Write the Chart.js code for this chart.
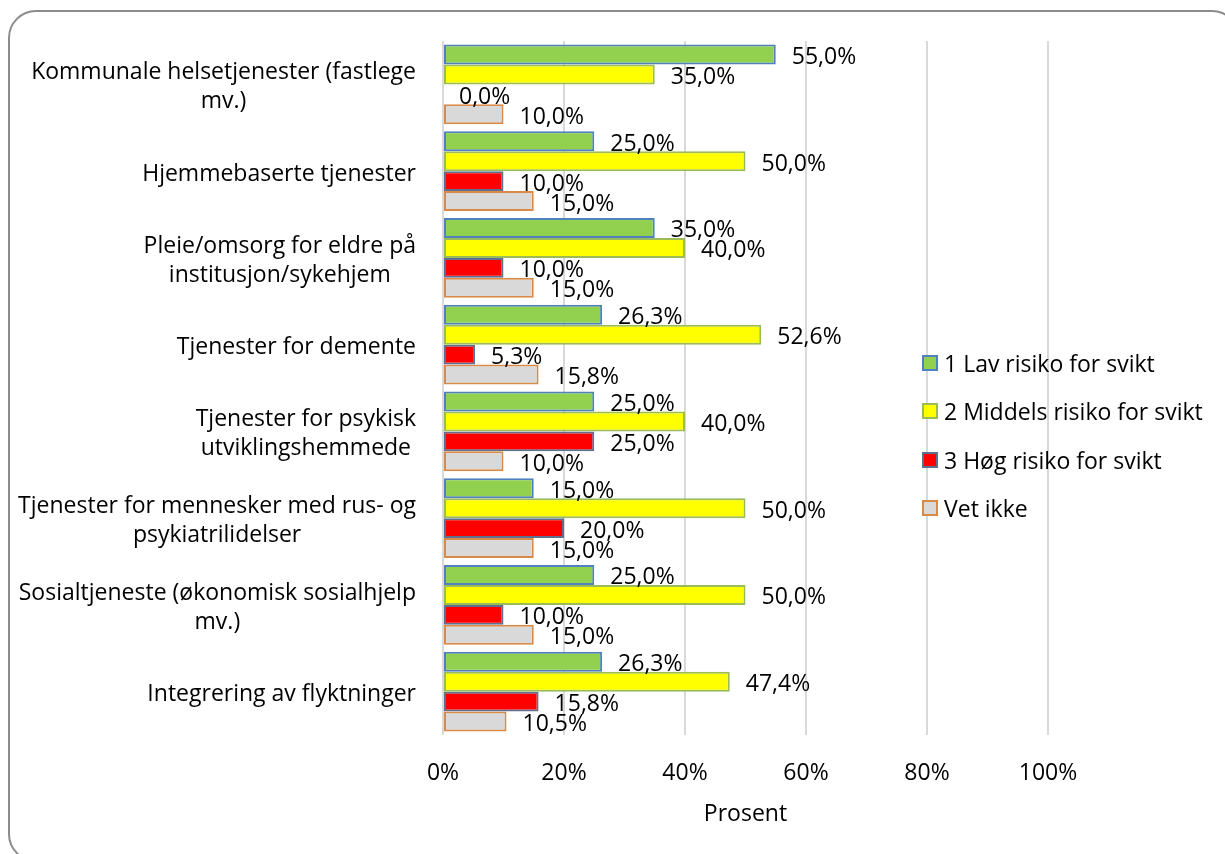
<!DOCTYPE html>
<html>
<head>
<meta charset="utf-8">
<script src="https://cdn.jsdelivr.net/npm/chart.js@4"></script>
<style>
  body { margin: 0; background: #fff; }
  #wrap { position: relative; width: 1225px; height: 854px; overflow: hidden; }
  #frame { position: absolute; left: 8px; top: 10px; width: 1232px; height: 852px;
           border: 2px solid #8c8c8c; border-radius: 28px; box-sizing: border-box; pointer-events: none; }
  #legend { position: absolute; left: 922px; top: 339px; font-family: "Open Sans", sans-serif; font-size: 23px; color: #000; }
  .item { height: 48.3px; display: flex; align-items: center; white-space: nowrap; line-height: 30px; }
  .box { width: 16px; height: 16px; box-sizing: border-box; border: 2px solid; margin-right: 6px; flex: none; }
</style>
</head>
<body>
<div id="wrap">
  <canvas id="chart" width="1225" height="854"></canvas>
  <div id="frame"></div>
  <div id="legend"></div>
</div>
<script>
const categories = [
    ['Kommunale helsetjenester (fastlege', 'mv.)'],
    'Hjemmebaserte tjenester',
    ['Pleie/omsorg for eldre på', 'institusjon/sykehjem'],
    'Tjenester for demente',
    ['Tjenester for psykisk', 'utviklingshemmede'],
    ['Tjenester for mennesker med rus- og', 'psykiatrilidelser'],
    ['Sosialtjeneste (økonomisk sosialhjelp', 'mv.)'],
    'Integrering av flyktninger'
];
const seriesNames = ['1 Lav risiko for svikt', '2 Middels risiko for svikt', '3 Høg risiko for svikt', 'Vet ikke'];
const lowRisk = [55.0, 25.0, 35.0, 26.3, 25.0, 15.0, 25.0, 26.3];
const midRisk = [35.0, 50.0, 40.0, 52.6, 40.0, 50.0, 50.0, 47.4];
const highRisk = [0.0, 10.0, 10.0, 5.3, 25.0, 20.0, 10.0, 15.8];
const dontKnow = [10.0, 15.0, 15.0, 15.8, 10.0, 15.0, 15.0, 10.5];
const xTicks = [0, 20, 40, 60, 80, 100];

const FONT = '"Open Sans", sans-serif';
const SIZE = 23;
const fills = ['#92D050', '#FFFF00', '#FF0000', '#D9D9D9'];
const edges = ['#4F81BD', '#9BBB59', '#5F6F8F', '#DA8A48'];

function pct(v) {
    return v.toFixed(1).replace('.', ',') + '%';
}

// value labels just past the end of each bar
const valueLabels = {
    id: 'valueLabels',
    afterDatasetsDraw(chart) {
        const ctx = chart.ctx;
        ctx.save();
        ctx.font = SIZE + 'px ' + FONT;
        ctx.fillStyle = '#000';
        ctx.textAlign = 'left';
        ctx.textBaseline = 'middle';
        chart.data.datasets.forEach((ds, i) => {
            chart.getDatasetMeta(i).data.forEach((bar, j) => {
                ctx.fillText(pct(ds.data[j]), bar.x + 16, bar.y + 3);
            });
        });
        ctx.restore();
    }
};

// category labels: block right aligned, lines centred inside the block (like Excel)
const catLabels = {
    id: 'catLabels',
    afterDraw(chart) {
        const ctx = chart.ctx;
        const y = chart.scales.y;
        ctx.save();
        ctx.font = SIZE + 'px ' + FONT;
        ctx.fillStyle = '#000';
        ctx.textAlign = 'center';
        ctx.textBaseline = 'middle';
        chart.data.labels.forEach((lab, i) => {
            const lines = Array.isArray(lab) ? lab : [lab];
            const w = Math.max(...lines.map(l => ctx.measureText(l).width));
            const cx = 416 - w / 2;
            const cy = y.getPixelForTick(i) + 3;
            lines.forEach((l, k) => {
                ctx.fillText(l, cx, cy + (k - (lines.length - 1) / 2) * 29);
            });
        });
        ctx.restore();
    }
};

const seriesData = [lowRisk, midRisk, highRisk, dontKnow];
const chart = new Chart(document.getElementById('chart'), {
    type: 'bar',
    data: {
        labels: categories,
        datasets: seriesData.map((d, i) => ({
            label: seriesNames[i],
            data: d,
            backgroundColor: fills[i],
            borderColor: edges[i],
            borderWidth: d.map(v => v === 0 ? 0 : 2),
            borderSkipped: false,
            barPercentage: 1,
            categoryPercentage: 0.92
        }))
    },
    options: {
        indexAxis: 'y',
        responsive: false,
        animation: false,
        devicePixelRatio: 1,
        layout: { padding: { left: 0, right: 177, top: 41, bottom: 0 } },
        plugins: { legend: { display: false }, tooltip: { enabled: false } },
        scales: {
            x: {
                min: 0, max: 100,
                afterBuildTicks(s) { s.ticks = xTicks.map(v => ({ value: v })); },
                afterFit(s) { s.height = 119; },
                grid: { color: '#D9D9D9', lineWidth: 2, drawTicks: false },
                border: { display: false },
                ticks: { color: '#000', font: { family: FONT, size: SIZE }, padding: 25, callback: v => v + '%' },
                title: { display: true, text: 'Prosent', color: '#000', font: { family: FONT, size: SIZE }, padding: { top: 0, bottom: 26 } }
            },
            y: {
                afterFit(s) { s.width = 443; },
                grid: { display: false },
                border: { display: false },
                ticks: { color: 'rgba(0,0,0,0)', font: { family: FONT, size: SIZE } }
            }
        }
    },
    plugins: [valueLabels, catLabels]
});

// legend, built from the datasets
const legend = document.getElementById('legend');
chart.data.datasets.forEach(ds => {
    const row = document.createElement('div');
    row.className = 'item';
    const box = document.createElement('span');
    box.className = 'box';
    box.style.background = ds.backgroundColor;
    box.style.borderColor = ds.borderColor;
    const txt = document.createElement('span');
    txt.textContent = ds.label;
    row.appendChild(box);
    row.appendChild(txt);
    legend.appendChild(row);
});
</script>
</body>
</html>
